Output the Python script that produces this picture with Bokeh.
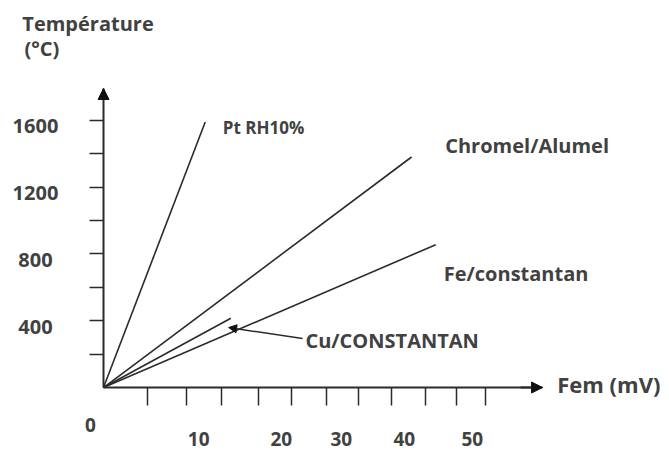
from bokeh.plotting import figure
from bokeh.models import (Range1d, FixedTicker, ColumnDataSource, LabelSet, Label,
                          Arrow, NormalHead, LinearAxis)
from bokeh.core.properties import value
from bokeh.embed import file_html
from bokeh.resources import INLINE

# Thermocouples: EMF (mV) and temperature (°C) at the far end of each straight line
couples = ["Pt  RH10%", "Chromel/Alumel", "Fe/constantan", "Cu/CONSTANTAN"]
emf_end = [13.9, 42.1, 45.4, 17.4]
temp_end = [1590, 1380, 855, 415]

# Axis ticks and tick labels
y_ticks = [200, 400, 600, 800, 1000, 1200, 1400, 1600]
y_tick_labels = ["400", "800", "1200", "1600"]
y_label_values = [400, 800, 1200, 1600]
x_ticks = [6.0, 11.3, 16.1, 21.2, 25.7, 30.5, 34.9, 39.4, 44.0, 48.2, 52.2]
x_tick_labels = ["0", "10", "20", "30", "40", "50"]

# Where the hand-lettered labels sit on the sheet (data units)
x_label_at = [-1.8, 13.0, 24.3, 32.5, 41.1, 50.4]
x_label_y = [-222, -311, -311, -311, -311, -311]
name_x = [16.3, 46.7, 46.5, 27.6]
name_y = [1557, 1449, 683, 281]
name_size = ["17px", "20px", "20px", "20px"]

FONT = "Open Sans"
INK = "#2b2b2b"
TEXT = "#414141"

# Extent of the drawn axes
X_MAX, Y_MAX = 60, 1790

p = figure(width=669, height=451, x_range=Range1d(-14.08, 77.35), y_range=Range1d(-383, 2317),
           x_axis_type=None, y_axis_type=None,
           output_backend="svg", toolbar_location=None, min_border=0)
p.grid.visible = False
p.outline_line_color = None
p.background_fill_color = "white"
p.border_fill_color = "white"

# Axes crossing at the origin: tick marks only, the numbers are lettered separately
xaxis = LinearAxis(fixed_location=0, bounds=(0, X_MAX))
yaxis = LinearAxis(fixed_location=0, bounds=(0, Y_MAX))
p.add_layout(xaxis, "below")
p.add_layout(yaxis, "left")
for ax, ticks, out in ((xaxis, x_ticks, 18), (yaxis, y_ticks, 14)):
    ax.ticker = FixedTicker(ticks=ticks, minor_ticks=[])
    ax.axis_line_width = 2
    ax.axis_line_color = INK
    ax.major_tick_line_color = INK
    ax.major_tick_line_width = 1.5
    ax.major_tick_out = out
    ax.major_tick_in = 0
    ax.minor_tick_line_color = None
    ax.major_label_overrides = {t: "" for t in ticks}

# Arrowheads on both axes
head = dict(size=11, fill_color="#111111", line_color="#111111")
p.add_layout(Arrow(end=NormalHead(**head), x_start=0, y_start=Y_MAX - 60, x_end=0, y_end=Y_MAX,
                   line_color=INK, line_width=2))
p.add_layout(Arrow(end=NormalHead(**head), x_start=X_MAX - 3, y_start=0, x_end=X_MAX, y_end=0,
                   line_color=INK, line_width=2))

# Thermocouple characteristics from the origin
src = ColumnDataSource(dict(x0=[0] * len(couples), y0=[0] * len(couples),
                            x1=emf_end, y1=temp_end, name=couples,
                            nx=name_x, ny=name_y, size=name_size))
p.segment(x0="x0", y0="y0", x1="x1", y1="y1", source=src, line_color=INK, line_width=1.6)

p.add_layout(LabelSet(x="nx", y="ny", text="name", source=src, text_font=value(FONT),
                      text_font_size="size", text_font_style="bold", text_color=TEXT,
                      text_align="left", text_baseline="middle"))

# Pointer from the Cu/CONSTANTAN caption to its line
p.add_layout(Arrow(end=NormalHead(size=8, fill_color="#111111", line_color="#111111"),
                   x_start=27.2, y_start=293, x_end=17.1, y_end=359,
                   line_color=INK, line_width=1.5))

# Tick numbers
ysrc = ColumnDataSource(dict(x=[-9.3] * len(y_tick_labels), y=[v - 35 for v in y_label_values],
                             t=y_tick_labels))
p.add_layout(LabelSet(x="x", y="y", text="t", source=ysrc, text_font=value(FONT),
                      text_font_size="20px", text_font_style="bold", text_color=TEXT,
                      text_align="center", text_baseline="middle"))
xsrc = ColumnDataSource(dict(x=x_label_at, y=x_label_y, t=x_tick_labels))
p.add_layout(LabelSet(x="x", y="y", text="t", source=xsrc, text_font=value(FONT),
                      text_font_size="19px", text_font_style="bold", text_color=TEXT,
                      text_align="center", text_baseline="middle"))

# Axis titles
for txt, x, y, size in (("Température", -11.1, 2180, "20px"), ("(°C)", -10.8, 2030, "20px"),
                        ("Fem (mV)", 62.0, 24, "22px")):
    p.add_layout(Label(x=x, y=y, text=txt, text_font=FONT, text_font_size=size,
                       text_font_style="bold", text_color=TEXT, text_align="left",
                       text_baseline="middle"))

open("out.html", "w").write(file_html(p, INLINE))
